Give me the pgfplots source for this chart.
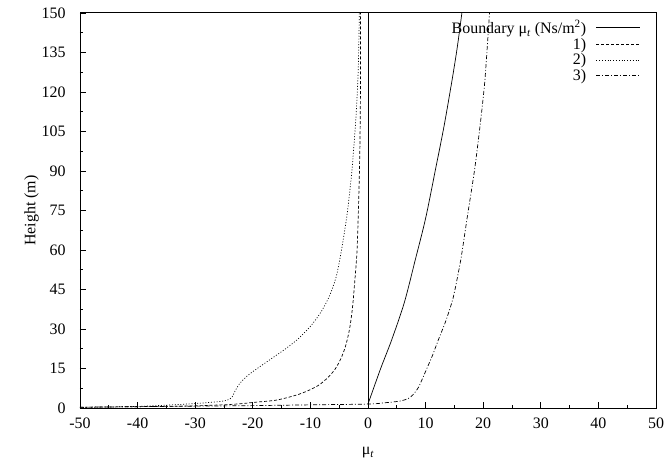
\documentclass[border=0pt]{standalone}
\usepackage{fontspec}
\setmainfont{Liberation Serif}
\usepackage{pgfplots}
\pgfplotsset{compat=1.18}
\newcommand{\fs}{\fontsize{16}{18}\selectfont}
\begin{document}
\begin{tikzpicture}
\begin{axis}[
  scale only axis,
  width=576bp, height=395bp,
  xmin=-50, xmax=50, ymin=0, ymax=150,
  xtick={-50,-40,...,50},
  ytick={0,15,...,150},
  minor x tick num=1, minor y tick num=1,
  tick align=inside,
  xtick pos=left, ytick pos=left,
  major tick length=6bp, minor tick length=3bp,
  tick style={line width=0.8pt, black},
  axis line style={line width=1pt},
  /pgf/number format/assume math mode=true,
  ticklabel style={font=\fs},
  xticklabel style={yshift=-6bp},
  yticklabel style={xshift=-11bp},
  xlabel={μ\textsubscript{\textit{t}}},
  ylabel={Height (m)},
  label style={font=\fs},
  xlabel style={yshift=-12bp},
  ylabel style={yshift=-4bp},
  legend style={draw=none, fill=none, at={(1,1)}, anchor=north east,
    xshift=-12bp, yshift=-3bp, font=\fs,
    row sep=-1bp, column sep=8bp},
  legend cell align=right,
  legend plot pos=right,
  legend image code/.code={\draw[#1] (0bp,0bp) -- (44bp,0bp);},
  every axis plot/.append style={line width=0.7pt, black},
]
% boundary
\addplot[solid, smooth] coordinates {
  (0,1.5) (2.2,15) (4.1,25.8) (6.3,40) (8.2,56.2) (10,72) (11.7,90.4)
  (13.2,107) (14.6,124.6) (15.5,137) (16.3,150)
};
\addlegendentry{Boundary μ\textsubscript{\textit{t}} (Ns/m\textsuperscript{2})}
% 1)
\addplot[dash pattern=on 3pt off 2pt, smooth] coordinates {
  (-50,0.3) (-40,0.5) (-30.5,0.8) (-23.5,1.4) (-19.5,2.2) (-15.9,3.0)
  (-12.6,4.8) (-10.6,6.4) (-8.6,8.6) (-7.0,11.5) (-5.7,14.8) (-4.7,18.8)
  (-3.9,23.5) (-3.2,30) (-2.7,38) (-2.3,48) (-1.9,60) (-1.6,80)
  (-1.4,100) (-1.3,125) (-1.3,150)
};
\addlegendentry{1)}
% 2)
\addplot[dash pattern=on 1pt off 1.8pt, smooth, tension=0.4] coordinates {
  (-50,0.2) (-40,0.6) (-32.2,1.4) (-26.4,2.3) (-24.4,3.0) (-23.6,4.2)
  (-23.0,6.8) (-22.2,9.5) (-20.8,12.5) (-18.9,15.5) (-16.6,19)
  (-14.3,22.5) (-12.0,26.5) (-9.8,31.5) (-8.0,37) (-6.6,43) (-5.5,50)
  (-4.6,60) (-3.6,74) (-2.8,90) (-2.1,110) (-1.7,128) (-1.5,150)
};
\addlegendentry{2)}
% 3)
\addplot[dash pattern=on 4pt off 2pt on 1pt off 2pt, smooth, tension=0.4] coordinates {
  (-50,0.3) (-40,0.5) (-30,0.7) (-20,0.9) (-10,1.2) (0.2,1.5) (3,2)
  (5.5,2.6) (7.0,3.6) (7.8,5.0) (8.8,8) (10.1,14.4) (11.2,20) (12.2,25.8)
  (13.5,33) (14.8,42) (16.1,56.2) (17.2,72) (18.5,90.4) (19.5,108)
  (20.3,124.6) (21.1,150)
};
\addlegendentry{3)}
% zero line
\addplot[solid, forget plot] coordinates {(0,0) (0,150)};
\end{axis}
\pgfresetboundingbox
\path (-80bp,-51bp) rectangle (587bp,408bp);
\end{tikzpicture}
\end{document}
